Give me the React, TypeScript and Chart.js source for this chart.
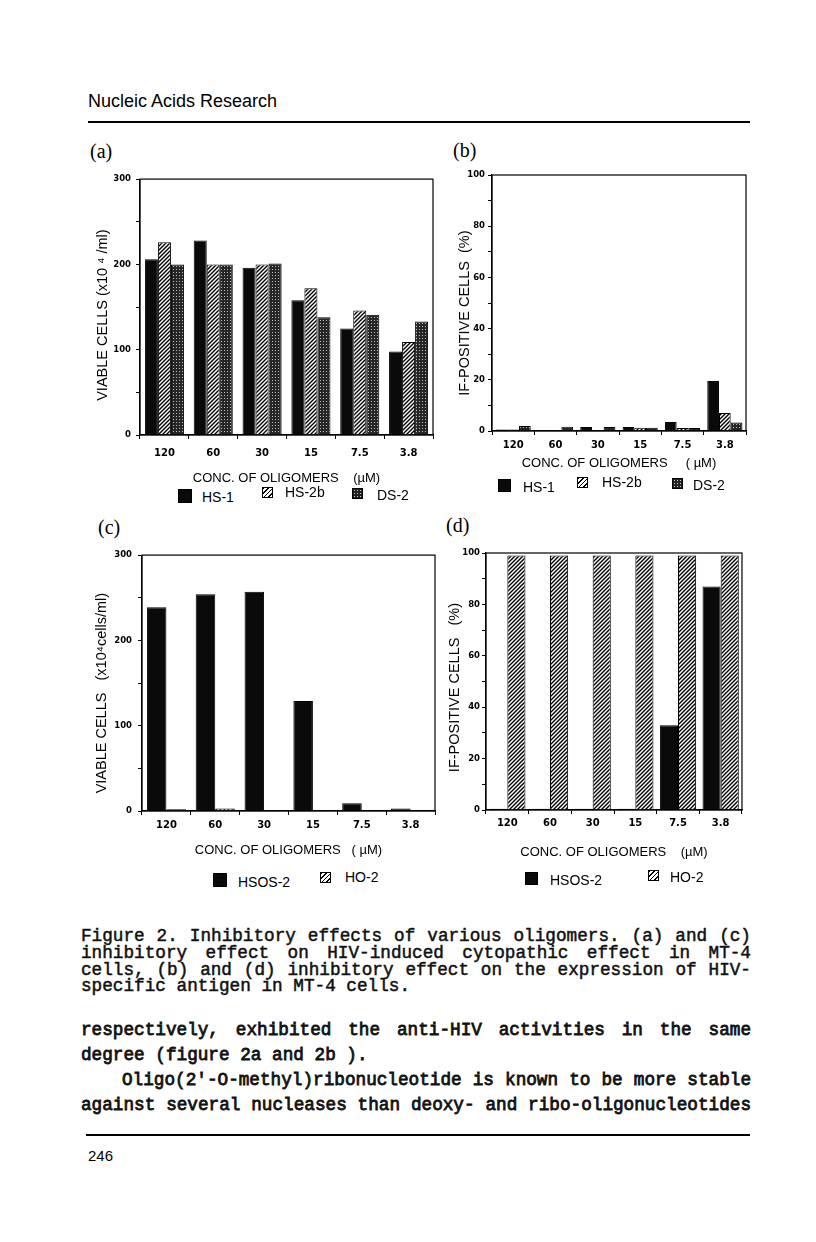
import React, { useEffect, useRef } from 'react';
import { Chart, registerables } from 'chart.js';

Chart.register(...registerables);

// ---------- data ----------
const categories = ['120', '60', '30', '15', '7.5', '3.8'];

const aHS1 = [206, 228, 196, 158, 125, 98];
const aHS2b = [226, 200, 200, 172, 146, 109];
const aDS2 = [200, 200, 201, 138, 141, 133];

const bHS1 = [0.6, 0.4, 1.6, 1.6, 3.5, 19.5];
const bHS2b = [0.6, 0.4, 0.4, 1.3, 1.2, 7];
const bDS2 = [2, 1.7, 1.6, 1.3, 1.2, 3.3];

const cHSOS2 = [239, 254, 257, 129, 9, 3];
const cHO2 = [2, 3, 1, 1, 0, 0];

const dHSOS2 = [0.5, 0.5, 0.5, 0.5, 33, 87];
const dHO2 = [99, 99, 99, 99, 99, 99];

const viableTicksMax = 300;
const percentTicksMax = 100;

// ---------- styles ----------
const SANS = '"Liberation Sans", Arial, sans-serif';
const TICKFONT = '"DejaVu Sans", "Liberation Sans", sans-serif';
const MONO = '"Liberation Mono", "DejaVu Sans Mono", monospace';
const SERIF = '"Liberation Serif", "DejaVu Serif", serif';

type Fill = 'solid' | 'hatch' | 'stipple';

function makePattern(kind: Fill): CanvasPattern | string {
  if (kind === 'solid') return '#0a0a0a';
  const c = document.createElement('canvas');
  if (kind === 'hatch') {
    const s = 4;
    c.width = s; c.height = s;
    const g = c.getContext('2d')!;
    g.fillStyle = '#ffffff';
    g.fillRect(0, 0, s, s);
    g.strokeStyle = '#000000';
    g.lineWidth = 1.4;
    g.beginPath();
    g.moveTo(0, s); g.lineTo(s, 0);
    g.moveTo(-1, 1); g.lineTo(1, -1);
    g.moveTo(s - 1, s + 1); g.lineTo(s + 1, s - 1);
    g.stroke();
    return g.createPattern(c, 'repeat')!;
  }
  const s = 3;
  c.width = s; c.height = s;
  const g = c.getContext('2d')!;
  g.fillStyle = '#262626';
  g.fillRect(0, 0, s, s);
  g.fillStyle = '#bdbdbd';
  g.fillRect(1, 1, 1, 1);
  return g.createPattern(c, 'repeat')!;
}

const cssFill: Record<Fill, string> = {
  solid: '#0a0a0a',
  hatch: 'repeating-linear-gradient(135deg, #000 0 1.3px, #fff 1.3px 3.2px)',
  stipple: 'radial-gradient(circle, #cfcfcf 0.7px, #222 0.9px) 0 0 / 3px 3px',
};

const framePlugin = {
  id: 'frame',
  afterDraw(chart: any) {
    const { ctx, chartArea: a } = chart;
    ctx.save();
    ctx.strokeStyle = '#000';
    ctx.lineWidth = 1.2;
    ctx.strokeRect(a.left, a.top, a.right - a.left, a.bottom - a.top);
    ctx.restore();
  },
};

interface Series { label: string; data: number[]; fill: Fill }

interface PanelSpec {
  plot: [number, number, number, number];
  yW: number; xH: number; padTop: number; padRight: number;
  yMax: number; yStep: number; yLabelEvery: number;
  yTitle: string; xTitle: string;
  yTitlePad: number; yTickPad: number; xTickPad: number;
  catPct: number;
  series: Series[];
}

function PanelChart({ spec }: { spec: PanelSpec }) {
  const ref = useRef<HTMLCanvasElement | null>(null);
  const [x0, y0, x1, y1] = spec.plot;
  const left = x0 - spec.yW;
  const top = y0 - spec.padTop;
  const width = spec.yW + (x1 - x0) + spec.padRight;
  const height = spec.padTop + (y1 - y0) + spec.xH;

  useEffect(() => {
    if (!ref.current) return;
    const chart = new Chart(ref.current, {
      type: 'bar',
      data: {
        labels: categories,
        datasets: spec.series.map((s) => ({
          label: s.label,
          data: s.data,
          backgroundColor: makePattern(s.fill) as any,
          borderColor: '#000',
          borderWidth: 1,
          barPercentage: 1,
          categoryPercentage: spec.catPct,
        })),
      },
      options: {
        animation: false,
        responsive: false,
        devicePixelRatio: 1,
        layout: { padding: { top: spec.padTop, right: spec.padRight, left: 0, bottom: 0 } },
        plugins: { legend: { display: false }, tooltip: { enabled: false } },
        scales: {
          x: {
            ticks: {
              color: '#000',
              padding: spec.xTickPad,
              font: { family: TICKFONT, weight: 'bold', size: 10 },
            },
            grid: { drawOnChartArea: false, tickLength: 4, color: '#000', offset: true },
            border: { display: true, color: '#000', width: 1.2 },
            title: {
              display: true,
              text: spec.xTitle,
              color: '#000',
              font: { family: SANS, size: 13 },
              padding: { top: 0, bottom: 0 },
            },
            afterFit: (s: any) => { s.height = spec.xH; },
          },
          y: {
            min: 0,
            max: spec.yMax,
            ticks: {
              stepSize: spec.yStep,
              autoSkip: false,
              color: '#000',
              padding: spec.yTickPad,
              font: { family: TICKFONT, weight: 'bold', size: 8.5 },
              callback: (v: any) => (Number(v) % spec.yLabelEvery === 0 ? String(v) : ''),
            },
            grid: { drawOnChartArea: false, tickLength: 4, color: '#000' },
            border: { display: true, color: '#000', width: 1.2 },
            title: {
              display: true,
              text: spec.yTitle,
              color: '#000',
              font: { family: SANS, size: 14.5 },
              padding: { top: spec.yTitlePad, bottom: 0 },
            },
            afterFit: (s: any) => { s.width = spec.yW; },
          },
        },
      } as any,
      plugins: [framePlugin],
    });
    return () => chart.destroy();
  }, [spec]);

  return (
    <canvas
      ref={ref}
      width={width}
      height={height}
      style={{ position: 'absolute', left, top, width, height }}
    />
  );
}

interface LegendItem { fill: Fill; x: number; y: number; size: number; text: string; tx: number; ty: number }

function Legend({ items }: { items: LegendItem[] }) {
  return (
    <>
      {items.map((it, i) => (
        <React.Fragment key={i}>
          <div
            style={{
              position: 'absolute', left: it.x, top: it.y, width: it.size, height: it.size,
              background: cssFill[it.fill], border: '1px solid #000', boxSizing: 'border-box',
            }}
          />
          <div
            style={{
              position: 'absolute', left: it.tx, top: it.ty, transform: 'translateY(-50%)',
              font: `14px ${SANS}`, lineHeight: 1, color: '#000', whiteSpace: 'nowrap',
            }}
          >
            {it.text}
          </div>
        </React.Fragment>
      ))}
    </>
  );
}

const panelA: PanelSpec = {
  plot: [140, 179, 433, 435], yW: 52, xH: 51, padTop: 10, padRight: 7,
  yMax: viableTicksMax, yStep: 50, yLabelEvery: 100,
  yTitle: 'VIABLE CELLS (x10 \u2074 /ml)    ', xTitle: 'CONC. OF OLIGOMERS    (\u00b5M)',
  yTitlePad: 6.6, yTickPad: 5, xTickPad: 8, catPct: 0.8,
  series: [
    { label: 'HS-1', data: aHS1, fill: 'solid' },
    { label: 'HS-2b', data: aHS2b, fill: 'hatch' },
    { label: 'DS-2', data: aDS2, fill: 'stipple' },
  ],
};

const panelB: PanelSpec = {
  plot: [492, 175, 746, 431], yW: 42, xH: 40, padTop: 10, padRight: 8,
  yMax: percentTicksMax, yStep: 10, yLabelEvery: 20,
  yTitle: 'IF-POSITIVE CELLS  (%)     ', xTitle: 'CONC. OF OLIGOMERS     ( \u00b5M)',
  yTitlePad: 6.6, yTickPad: 3, xTickPad: 4, catPct: 0.83,
  series: [
    { label: 'HS-1', data: bHS1, fill: 'solid' },
    { label: 'HS-2b', data: bHS2b, fill: 'hatch' },
    { label: 'DS-2', data: bDS2, fill: 'stipple' },
  ],
};

const panelC: PanelSpec = {
  plot: [142, 554, 435, 811], yW: 56, xH: 47, padTop: 10, padRight: 7,
  yMax: viableTicksMax, yStep: 50, yLabelEvery: 100,
  yTitle: 'VIABLE CELLS   (x10\u2074cells/ml)     ', xTitle: 'CONC. OF OLIGOMERS   ( \u00b5M)',
  yTitlePad: 7.6, yTickPad: 6, xTickPad: 4, catPct: 0.8,
  series: [
    { label: 'HSOS-2', data: cHSOS2, fill: 'solid' },
    { label: 'HO-2', data: cHO2, fill: 'hatch' },
  ],
};

const panelD: PanelSpec = {
  plot: [486, 553, 742, 810], yW: 46, xH: 50, padTop: 10, padRight: 8,
  yMax: percentTicksMax, yStep: 10, yLabelEvery: 20,
  yTitle: 'IF-POSITIVE CELLS   (%)   ', xTitle: 'CONC. OF OLIGOMERS    (\u00b5M)',
  yTitlePad: 6.6, yTickPad: 2, xTickPad: 3, catPct: 0.85,
  series: [
    { label: 'HSOS-2', data: dHSOS2, fill: 'solid' },
    { label: 'HO-2', data: dHO2, fill: 'hatch' },
  ],
};

const legendA: LegendItem[] = [
  { fill: 'solid', x: 178, y: 489, size: 14, text: 'HS-1', tx: 202, ty: 497 },
  { fill: 'hatch', x: 262, y: 487, size: 11, text: 'HS-2b', tx: 285, ty: 492 },
  { fill: 'stipple', x: 352, y: 488, size: 11, text: 'DS-2', tx: 377, ty: 495 },
];
const legendB: LegendItem[] = [
  { fill: 'solid', x: 498, y: 479, size: 13, text: 'HS-1', tx: 523, ty: 487 },
  { fill: 'hatch', x: 577, y: 477, size: 11, text: 'HS-2b', tx: 602, ty: 482 },
  { fill: 'stipple', x: 672, y: 478, size: 11, text: 'DS-2', tx: 693, ty: 485 },
];
const legendC: LegendItem[] = [
  { fill: 'solid', x: 213, y: 873, size: 14, text: 'HSOS-2', tx: 238, ty: 882 },
  { fill: 'hatch', x: 320, y: 872, size: 11, text: 'HO-2', tx: 345, ty: 877 },
];
const legendD: LegendItem[] = [
  { fill: 'solid', x: 525, y: 872, size: 13, text: 'HSOS-2', tx: 550, ty: 880 },
  { fill: 'hatch', x: 648, y: 870, size: 11, text: 'HO-2', tx: 670, ty: 877 },
];

const captionLines = [
  'Figure 2. Inhibitory effects of various oligomers. (a) and (c)',
  'inhibitory effect on HIV-induced cytopathic effect in MT-4',
  'cells, (b) and (d) inhibitory effect on the expression of HIV-',
  'specific antigen in MT-4 cells.',
];
const captionY = [934, 951, 968, 984];
const captionJustify = [true, true, true, false];

const bodyLines = [
  'respectively, exhibited the anti-HIV activities in the same',
  'degree (figure 2a and 2b ).',
  "Oligo(2'-O-methyl)ribonucleotide is known to be more stable",
  'against several nucleases than deoxy- and ribo-oligonucleotides',
];
const bodyY = [1030, 1055, 1080, 1105];
const bodyX = [81, 81, 122, 81];
const bodyJustify = [true, false, true, true];

function TextLine({ text, x, cy, justify, lh, stroke }: { text: string; x: number; cy: number; justify: boolean; lh: number; stroke: number }) {
  return (
    <div
      style={{
        position: 'absolute', left: x, top: cy - lh / 2, width: 751 - x, height: lh,
        lineHeight: `${lh}px`, font: `17.7px ${MONO}`, color: '#111',
        WebkitTextStroke: `${stroke}px #111`,
        textAlign: justify ? 'justify' : 'left',
        textAlignLast: justify ? 'justify' : 'auto',
        whiteSpace: justify ? 'normal' : 'pre',
      } as React.CSSProperties}
    >
      {text}
    </div>
  );
}

function PanelLabel({ text, x, cy }: { text: string; x: number; cy: number }) {
  return (
    <div
      style={{
        position: 'absolute', left: x, top: cy, transform: 'translateY(-50%)',
        font: `20px ${SERIF}`, lineHeight: 1, color: '#000',
      }}
    >
      {text}
    </div>
  );
}

export default function App() {
  return (
    <div style={{ position: 'absolute', left: 0, top: 0, width: 816, height: 1242, background: '#fff', overflow: 'hidden' }}>
      <div style={{ position: 'absolute', left: 88, top: 101, transform: 'translateY(-50%)', font: `18px ${SANS}`, lineHeight: 1, color: '#000' }}>
        Nucleic Acids Research
      </div>
      <div style={{ position: 'absolute', left: 88, top: 121, width: 662, height: 2, background: '#000' }} />

      <PanelLabel text="(a)" x={90} cy={151} />
      <PanelLabel text="(b)" x={453} cy={150} />
      <PanelLabel text="(c)" x={98} cy={527} />
      <PanelLabel text="(d)" x={446} cy={525} />

      <PanelChart spec={panelA} />
      <PanelChart spec={panelB} />
      <PanelChart spec={panelC} />
      <PanelChart spec={panelD} />

      <Legend items={legendA} />
      <Legend items={legendB} />
      <Legend items={legendC} />
      <Legend items={legendD} />

      {captionLines.map((t, i) => (
        <TextLine key={'c' + i} text={t} x={81} cy={captionY[i]} justify={captionJustify[i]} lh={17} stroke={0.5} />
      ))}
      {bodyLines.map((t, i) => (
        <TextLine key={'b' + i} text={t} x={bodyX[i]} cy={bodyY[i]} justify={bodyJustify[i]} lh={20} stroke={0.8} />
      ))}

      <div style={{ position: 'absolute', left: 86, top: 1134, width: 664, height: 2, background: '#000' }} />
      <div style={{ position: 'absolute', left: 88, top: 1155, transform: 'translateY(-50%)', font: `15px ${SANS}`, lineHeight: 1, color: '#000' }}>
        246
      </div>
    </div>
  );
}
